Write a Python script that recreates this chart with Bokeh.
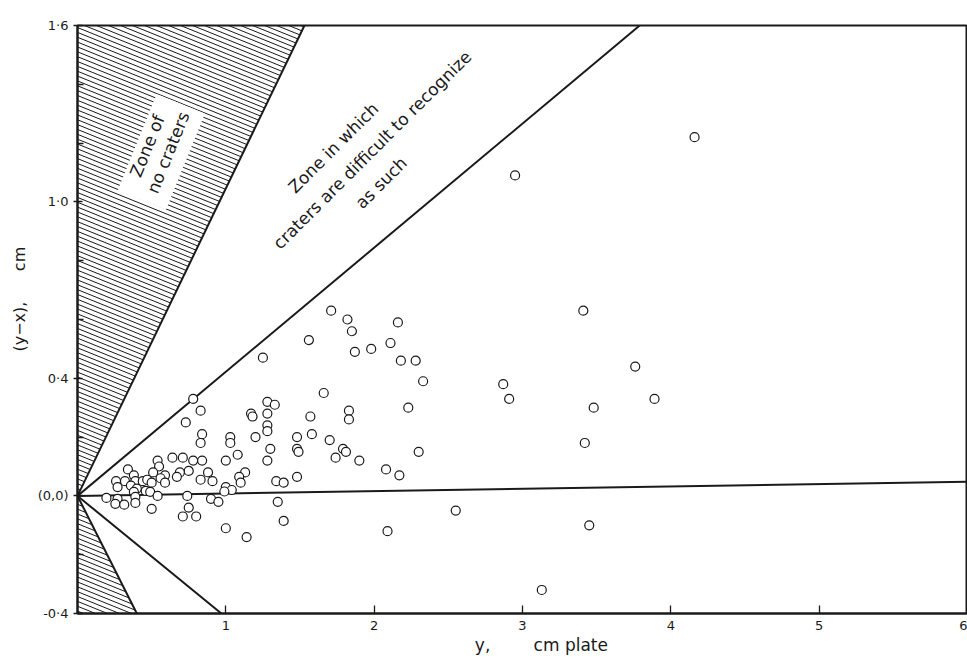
import math
from bokeh.plotting import figure
from bokeh.models import FixedTicker, Range1d
from bokeh.core.properties import value
from bokeh.embed import file_html
from bokeh.resources import INLINE

# ---------------- data ----------------
crater_x = [4.16, 2.95, 3.41, 3.76, 2.87, 2.91, 3.89, 3.48, 3.42, 3.45, 3.13, 2.55,
            1.71, 1.82, 1.85, 2.16, 1.87, 1.98, 2.11, 2.18, 2.28, 2.33, 1.83, 1.83,
            2.23, 1.70, 1.79, 1.81, 1.74, 1.90, 2.30, 2.08, 2.17, 2.09,
            1.56, 1.25, 0.78, 1.66, 0.83, 0.73, 1.28, 1.33, 1.17, 1.18, 1.28, 1.28,
            1.28, 1.57, 1.58, 1.48, 0.84, 0.83, 1.03, 1.03, 1.20, 1.48, 1.49, 1.30,
            1.08, 1.28, 1.00, 0.64, 0.71, 0.78, 0.84, 0.75, 0.69, 0.67, 0.88, 0.83,
            0.91, 1.13, 1.09, 1.10, 1.00, 1.04, 0.99, 1.34, 1.39, 1.48, 0.74, 0.90,
            0.95, 1.35, 0.75, 0.71, 0.80, 1.00, 1.39, 1.14,
            0.34, 0.54, 0.55, 0.51, 0.59, 0.38, 0.26, 0.32, 0.39, 0.44, 0.47, 0.50,
            0.56, 0.59, 0.27, 0.36, 0.40, 0.46, 0.49, 0.38, 0.54, 0.195, 0.27, 0.39,
            0.255, 0.315, 0.39, 0.50]
crater_y = [1.22, 1.09, 0.63, 0.44, 0.38, 0.33, 0.33, 0.30, 0.18, -0.10, -0.32, -0.05,
            0.63, 0.60, 0.56, 0.59, 0.49, 0.50, 0.52, 0.46, 0.46, 0.39, 0.29, 0.26,
            0.30, 0.19, 0.16, 0.15, 0.13, 0.12, 0.15, 0.09, 0.07, -0.12,
            0.53, 0.47, 0.33, 0.35, 0.29, 0.25, 0.32, 0.31, 0.28, 0.27, 0.28, 0.24,
            0.22, 0.27, 0.21, 0.20, 0.21, 0.18, 0.20, 0.18, 0.20, 0.16, 0.15, 0.16,
            0.14, 0.12, 0.12, 0.13, 0.13, 0.12, 0.12, 0.085, 0.08, 0.065, 0.08, 0.055,
            0.05, 0.08, 0.065, 0.045, 0.03, 0.02, 0.015, 0.05, 0.045, 0.065, 0.0, -0.01,
            -0.02, -0.02, -0.04, -0.07, -0.07, -0.11, -0.085, -0.14,
            0.09, 0.12, 0.10, 0.08, 0.07, 0.07, 0.05, 0.05, 0.05, 0.05, 0.055, 0.045,
            0.06, 0.045, 0.03, 0.035, 0.025, 0.017, 0.014, 0.014, 0.0, -0.007, -0.01, -0.003,
            -0.027, -0.03, -0.024, -0.044]

# boundary lines drawn from the origin (0,0)
ray_end_x = [1.53, 3.79, 6.0, 0.97, 0.40]
ray_end_y = [1.60, 1.60, 0.048, -0.40, -0.40]

# hatched "no crater" zones
upper_zone_x = [0.0, 0.0, 1.53]
upper_zone_y = [0.0, 1.6, 1.6]
lower_zone_x = [0.0, 0.0, 0.40]
lower_zone_y = [0.0, -0.4, -0.4]

y_ticks = [-0.4, 0.0, 0.4, 1.0, 1.6]
y_tick_labels = ["-0·4", "(0,0)", "0·4", "1·0", "1·6"]
y_minor_ticks = [-0.2, 0.2, 0.6, 0.8, 1.2, 1.4]
x_ticks = [1, 2, 3, 4, 5, 6]
x_tick_labels = ["1", "2", "3", "4", "5", "6"]

zone_text = ["Zone of", "no craters", "Zone in which",
             "craters are difficult to recognize", "as such"]

# ---------------- layout ----------------
W, H = 967, 659
BL, BR, BT, BB = 77, 0, 25, 46
X0, X1 = 0.0, 6.0
Y0, Y1 = -0.4, 1.6
INK = "#1a1a1a"
FONT = "DejaVu Sans"
NB = "\u00a0"

p = figure(width=W, height=H, x_range=Range1d(X0, X1), y_range=Range1d(Y0, Y1),
           output_backend="svg", toolbar_location=None,
           min_border_left=BL, min_border_right=BR, min_border_top=BT, min_border_bottom=BB)
p.background_fill_color = "white"
p.border_fill_color = "white"
p.xgrid.visible = False
p.ygrid.visible = False
p.outline_line_color = INK
p.outline_line_width = 2

kx = (W - BL - BR) / (X1 - X0)
ky = (H - BT - BB) / (Y1 - Y0)


def hatch(px, py, angle_deg, spacing):
    a = math.radians(angle_deg)
    nx, ny = math.sin(a), math.cos(a)
    pts = [(x * kx, y * ky) for x, y in zip(px, py)]
    cs = [nx * x + ny * y for x, y in pts]
    xs, ys = [], []
    c = min(cs) + spacing / 2
    n = len(pts)
    while c < max(cs):
        hits = []
        for i in range(n):
            (x1, y1), (x2, y2) = pts[i], pts[(i + 1) % n]
            f1 = nx * x1 + ny * y1 - c
            f2 = nx * x2 + ny * y2 - c
            if (f1 < 0) != (f2 < 0):
                t = f1 / (f1 - f2)
                hits.append((x1 + t * (x2 - x1), y1 + t * (y2 - y1)))
        if len(hits) >= 2:
            hits.sort()
            xs.append([hits[0][0] / kx, hits[-1][0] / kx])
            ys.append([hits[0][1] / ky, hits[-1][1] / ky])
        c += spacing
    return xs, ys


for zx, zy in ((upper_zone_x, upper_zone_y), (lower_zone_x, lower_zone_y)):
    hx, hy = hatch(zx, zy, 22, 4.5)
    p.multi_line(hx, hy, line_color=INK, line_width=1.0)

# white box behind "Zone of no craters"
p.rect(x=[0.565], y=[1.17], width=[104], height=[52], angle=[math.radians(68)],
       width_units="screen", height_units="screen", fill_color="white", line_color=None)

# boundary rays
p.segment(x0=[0.0] * len(ray_end_x), y0=[0.0] * len(ray_end_y), x1=ray_end_x, y1=ray_end_y,
          line_color=INK, line_width=2)

# craters
p.scatter(crater_x, crater_y, size=9, marker="circle", fill_color="white",
          line_color=INK, line_width=1.2)

# axes
yax = p.yaxis[0]
yax.ticker = FixedTicker(ticks=y_ticks, minor_ticks=y_minor_ticks)
yax.major_label_overrides = {t: l for t, l in zip(y_ticks, y_tick_labels)}
yax.major_tick_in = 5
yax.major_tick_out = 4
yax.minor_tick_in = 6
yax.minor_tick_out = 0
yax.major_label_standoff = 5
yax.axis_label = NB * 8 + "(y\u2212x)," + NB * 6 + "cm"
yax.axis_label_standoff = 6
yax.axis_label_text_font_size = "16px"

xax = p.xaxis[0]
xax.ticker = FixedTicker(ticks=x_ticks, minor_ticks=[])
xax.major_label_overrides = {t: l for t, l in zip(x_ticks, x_tick_labels)}
xax.major_tick_in = 8
xax.major_tick_out = 0
xax.major_label_standoff = 7
xax.axis_label = NB * 7 + "y," + NB * 8 + "cm plate"
xax.axis_label_standoff = 2
xax.axis_label_text_font_size = "17px"

for ax in (xax, yax):
    ax.axis_line_color = INK
    ax.axis_line_width = 2
    ax.major_tick_line_color = INK
    ax.major_tick_line_width = 1.3
    ax.minor_tick_line_color = INK
    ax.minor_tick_line_width = 1.3
    ax.major_label_text_font = FONT
    ax.major_label_text_font_size = "13px"
    ax.major_label_text_color = INK
    ax.axis_label_text_font = FONT
    ax.axis_label_text_font_style = "normal"
    ax.axis_label_text_color = INK

# zone annotations (text glyphs in data space)
a68 = math.radians(68)
a45 = math.radians(45)
zone_text_x = [0.470, 0.611, 1.725, 1.987, 2.047]
zone_text_y = [1.190, 1.168, 1.184, 1.177, 1.065]
zone_angle = [a68, a68, a45, a45, a45]
p.text(x=zone_text_x, y=zone_text_y, text=zone_text, angle=zone_angle,
       text_font=value(FONT), text_font_size="17px", text_color=INK,
       text_align="center", text_baseline="middle")

open("out.html", "w").write(file_html(p, INLINE))
